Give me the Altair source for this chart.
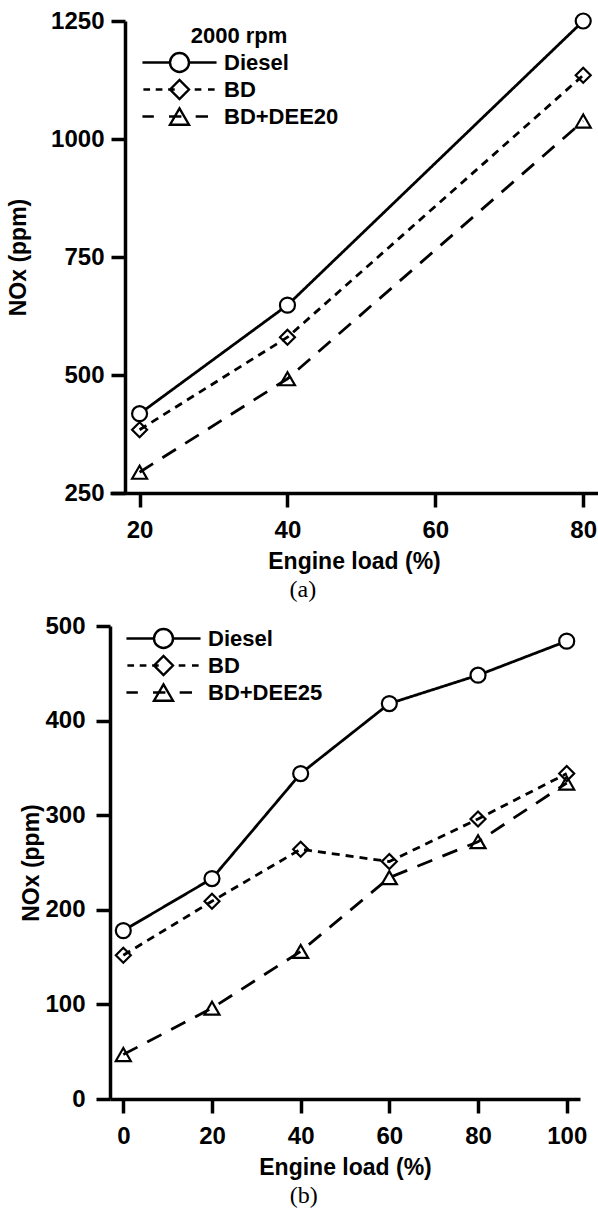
import altair as alt
import pandas as pd

# ---------------- data ----------------
top_series = ["Diesel", "BD", "BD+DEE20"]
top_load = [20, 40, 80]
top_diesel = [418, 648, 1250]
top_bd = [384, 580, 1135]
top_dee = [294, 492, 1038]

bot_series = ["Diesel", "BD", "BD+DEE25"]
bot_load = [0, 20, 40, 60, 80, 100]
bot_diesel = [178, 233, 344, 418, 448, 484]
bot_bd = [152, 209, 264, 251, 296, 344]
bot_dee = [47, 96, 156, 234, 272, 334]

top_xticks = [20, 40, 60, 80]
top_yticks = [250, 500, 750, 1000, 1250]
bot_xticks = [0, 20, 40, 60, 80, 100]
bot_yticks = [0, 100, 200, 300, 400, 500]

top_legend_title = "2000 rpm"

FONT = "Liberation Sans"


def make_df(series, load, vals):
    rows = []
    for s, v in zip(series, vals):
        for l, y in zip(load, v):
            rows.append({"series": s, "load": l, "nox": y})
    return pd.DataFrame(rows)


DASHES = [[1, 0], [8, 6], [16, 11]]
SHAPES = ["circle", "diamond", "triangle-up"]
FILLS = ["white", "transparent", "transparent"]

# legend glyphs (line + marker) in marker-radius units, scaled to the symbol box
LEG_R = 39.0          # half of the nominal legend symbol box (px)
MARK_R = 9.5          # marker radius (px)
K = MARK_R / LEG_R


def f(v):
    return f"{v * K:.4f}"


def segs(pairs):
    return "".join(f"M{f(a)},0H{f(b)}" for a, b in pairs)


LEG_PATHS = [
    segs([(-3.9, -1), (1, 3.9)])
    + f"M{f(-1)},0A{f(1)},{f(1)} 0 1,1 {f(1)},0A{f(1)},{f(1)} 0 1,1 {f(-1)},0Z",
    segs([(-3.8, -3.1), (-2.5, -1.8), (-1.2, -0.5), (1.6, 2.3), (3.0, 3.7)])
    + f"M{f(-1)},0L0,{f(-1)}L{f(1)},0L0,{f(1)}Z",
    segs([(-3.9, -2.7), (-1.1, 0.2), (1.7, 3.0)])
    + f"M0,{f(-0.866)}L{f(-1)},{f(0.866)}L{f(1)},{f(0.866)}Z",
]


def panel(df, series, xdom, xticks, ydom, yticks, width, height, yoffset,
          ylabpad, ytitlepad, legend_title, legx, legy, caption):
    x = alt.X("load:Q", scale=alt.Scale(domain=xdom, nice=False, zero=False),
              axis=alt.Axis(values=xticks, title="Engine load (%)", labelPadding=11,
                            titlePadding=8, format="d"))
    y = alt.Y("nox:Q", scale=alt.Scale(domain=ydom, nice=False, zero=False),
              axis=alt.Axis(values=yticks, title="NOx (ppm)", offset=yoffset,
                            labelPadding=ylabpad, titlePadding=ytitlepad, format="d"))
    lines = alt.Chart(df).mark_line(color="black", strokeWidth=2.8).encode(
        x=x, y=y,
        strokeDash=alt.StrokeDash("series:N", scale=alt.Scale(domain=series, range=DASHES),
                                  legend=None),
    )
    pts = alt.Chart(df).mark_point(filled=False, color="black", strokeWidth=2.2,
                                   opacity=1, size=225).encode(
        x=x, y=y,
        shape=alt.Shape("series:N", scale=alt.Scale(domain=series, range=SHAPES), legend=None),
        fill=alt.Fill("series:N", scale=alt.Scale(domain=series, range=FILLS), legend=None),
    )
    leg = alt.Chart(df).transform_filter("false").mark_point(
        filled=False, color="black", strokeWidth=2.2, opacity=1).encode(
        x=x, y=y,
        shape=alt.Shape("series:N", scale=alt.Scale(domain=series, range=LEG_PATHS),
                        legend=alt.Legend(title=legend_title, orient="none",
                                          legendX=legx, legendY=legy,
                                          symbolSize=(2 * LEG_R) ** 2,
                                          symbolStrokeWidth=2.4,
                                          symbolStrokeColor="black",
                                          symbolFillColor="transparent",
                                          symbolOffset=0, labelOffset=4,
                                          clipHeight=27, rowPadding=0, titlePadding=1,
                                          titleAnchor="middle")),
    )
    return alt.layer(lines, pts, leg).resolve_scale(
        shape="independent", fill="independent", strokeDash="independent"
    ).properties(
        width=width, height=height,
        title=alt.TitleParams(caption, orient="bottom", font="Liberation Serif",
                              fontSize=24, fontWeight="normal", color="black",
                              offset=5, anchor="middle", frame="bounds"),
    )


top = panel(make_df(top_series, top_load, [top_diesel, top_bd, top_dee]), top_series,
            [16, 82], top_xticks, [250, 1250], top_yticks, 488, 472, -15, 7, 20,
            top_legend_title, 29, 5, "(a)")
bot = panel(make_df(bot_series, bot_load, [bot_diesel, bot_bd, bot_dee]), bot_series,
            [-3, 103], bot_xticks, [0, 500], bot_yticks, 470, 473, 0, 11, 1,
            None, 13, -1, "(b)")

chart = alt.vconcat(top, bot, spacing=12).resolve_scale(
    shape="independent", fill="independent", strokeDash="independent"
).properties(
    padding={"left": 7, "top": 9, "right": 0, "bottom": 0}
).configure_axis(
    domainColor="black", domainWidth=3.5, tickColor="black", tickWidth=3.5, tickSize=14,
    labelFont=FONT, labelFontSize=24, labelFontWeight="bold", labelColor="black",
    titleFont=FONT, titleFontSize=23, titleFontWeight="bold", titleColor="black",
    grid=False,
).configure_legend(
    labelFont=FONT, labelFontSize=22, labelFontWeight="bold", labelColor="black",
    titleFont=FONT, titleFontSize=22, titleFontWeight="bold", titleColor="black",
    padding=0,
).configure_view(stroke=None)

chart.save("out.html", embed_options={"renderer": "svg", "actions": False})
